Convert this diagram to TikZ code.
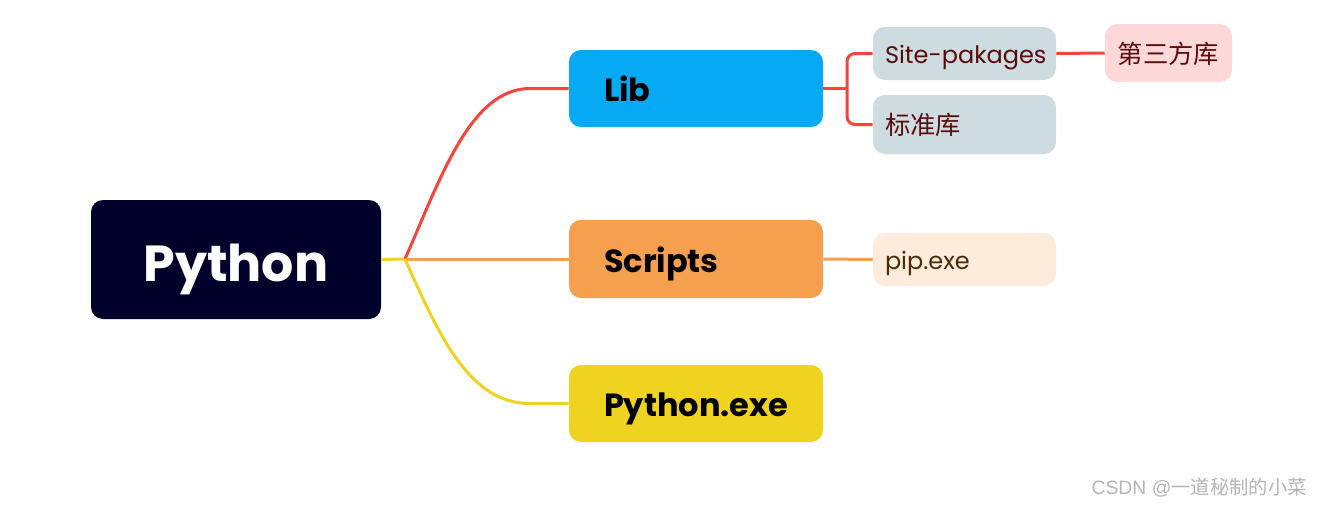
\documentclass[tikz,border=0pt]{standalone}
\usepackage{fontspec}
\setmainfont{Poppins}
\newfontfamily\cjk{Noto Sans CJK SC}
\newfontfamily\wmfont{Liberation Sans}
\definecolor{rootc}{HTML}{00002A}
\definecolor{libc}{HTML}{05A9F4}
\definecolor{scrc}{HTML}{F5A04F}
\definecolor{exec}{HTML}{F0D321}
\definecolor{grayc}{HTML}{CDDCE1}
\definecolor{pinkc}{HTML}{FFD9D9}
\definecolor{peachc}{HTML}{FDEBDC}
\definecolor{redl}{HTML}{F5443C}
\definecolor{subtext}{HTML}{5A0B0B}
\definecolor{piptext}{HTML}{4A2A0A}
\definecolor{wmc}{HTML}{B4B4B4}
\begin{document}
\begin{tikzpicture}[x=0.75pt,y=-0.75pt,
  root/.style={fill=rootc, rounded corners=9pt, minimum width=217.5pt, minimum height=89.25pt,
    text=white, font=\bfseries\fontsize{38}{40}\selectfont, inner sep=0pt,
    text height=36pt, text depth=3pt},
  mainbox/.style={rounded corners=9pt, minimum height=57.75pt, text width=138pt, inner xsep=26.25pt,
    inner ysep=0pt, align=left, font=\bfseries\fontsize{24}{28}\selectfont, text=black,
    text height=22pt, text depth=2pt},
  subbox/.style={rounded corners=9pt, text width=119.25pt, inner xsep=9pt, inner ysep=0pt,
    align=left, font=\fontsize{18}{22}\selectfont, text=subtext,
    text height=16pt, text depth=1pt},
  conn/.style={line width=2.25pt},
]
\useasboundingbox (0,0) rectangle (1322,507);
% nodes
\node[root] (py) at (236,259.5) {Python};
\node[mainbox, fill=libc] (lib) at (696,88.5) {Lib};
\node[mainbox, fill=scrc, minimum height=58.5pt] (scr) at (696,259) {Scripts};
\node[mainbox, fill=exec] (exe) at (696,403.5) {Python.exe};
\node[subbox, fill=grayc, minimum height=39.75pt] (site) at (964.5,53.5) {\mbox{Site-pakages}};
\node[subbox, fill=grayc, minimum height=44.25pt, font=\fontsize{19}{22}\selectfont] (std) at (964.5,124.5) {\cjk 标准库};
\node[subbox, fill=peachc, minimum height=39.75pt, text=piptext] (pip) at (964.5,259.5) {pip.exe};
\node[rounded corners=9pt, fill=pinkc, minimum width=95.25pt, minimum height=43.5pt, inner sep=0pt,
  text=subtext, font=\cjk\fontsize{19}{22}\selectfont, text height=16pt, text depth=1pt]
  (third) at (1168.5,53) {第三方库};
\node[anchor=east, inner sep=0pt, text=wmc, font=\wmfont\fontsize{14.5}{16}\selectfont] (wm) at (1307,488)
  {CSDN @{\cjk 一道秘制的小菜}};
% connectors
\coordinate (j) at (405,259);
\coordinate (bx) at (847,88.5);
\draw[conn, exec] (py.east) -- (j);
\draw[conn, redl] (j) .. controls (440,180) and (470,88.5) .. (530,88.5) -- (lib.west);
\draw[conn, scrc] (j) -- (scr.west);
\draw[conn, exec] (j) .. controls (440,338) and (470,403.5) .. (530,403.5) -- (exe.west);
\draw[conn, redl] (lib.east) -- (bx);
\draw[conn, redl, rounded corners=6pt] (site.west) -- (site.west -| bx) -- (std.west -| bx) -- (std.west);
\draw[conn, redl] (site.east) -- (third.west);
\draw[conn, scrc] (scr.east) -- (pip.west);
\end{tikzpicture}
\end{document}
